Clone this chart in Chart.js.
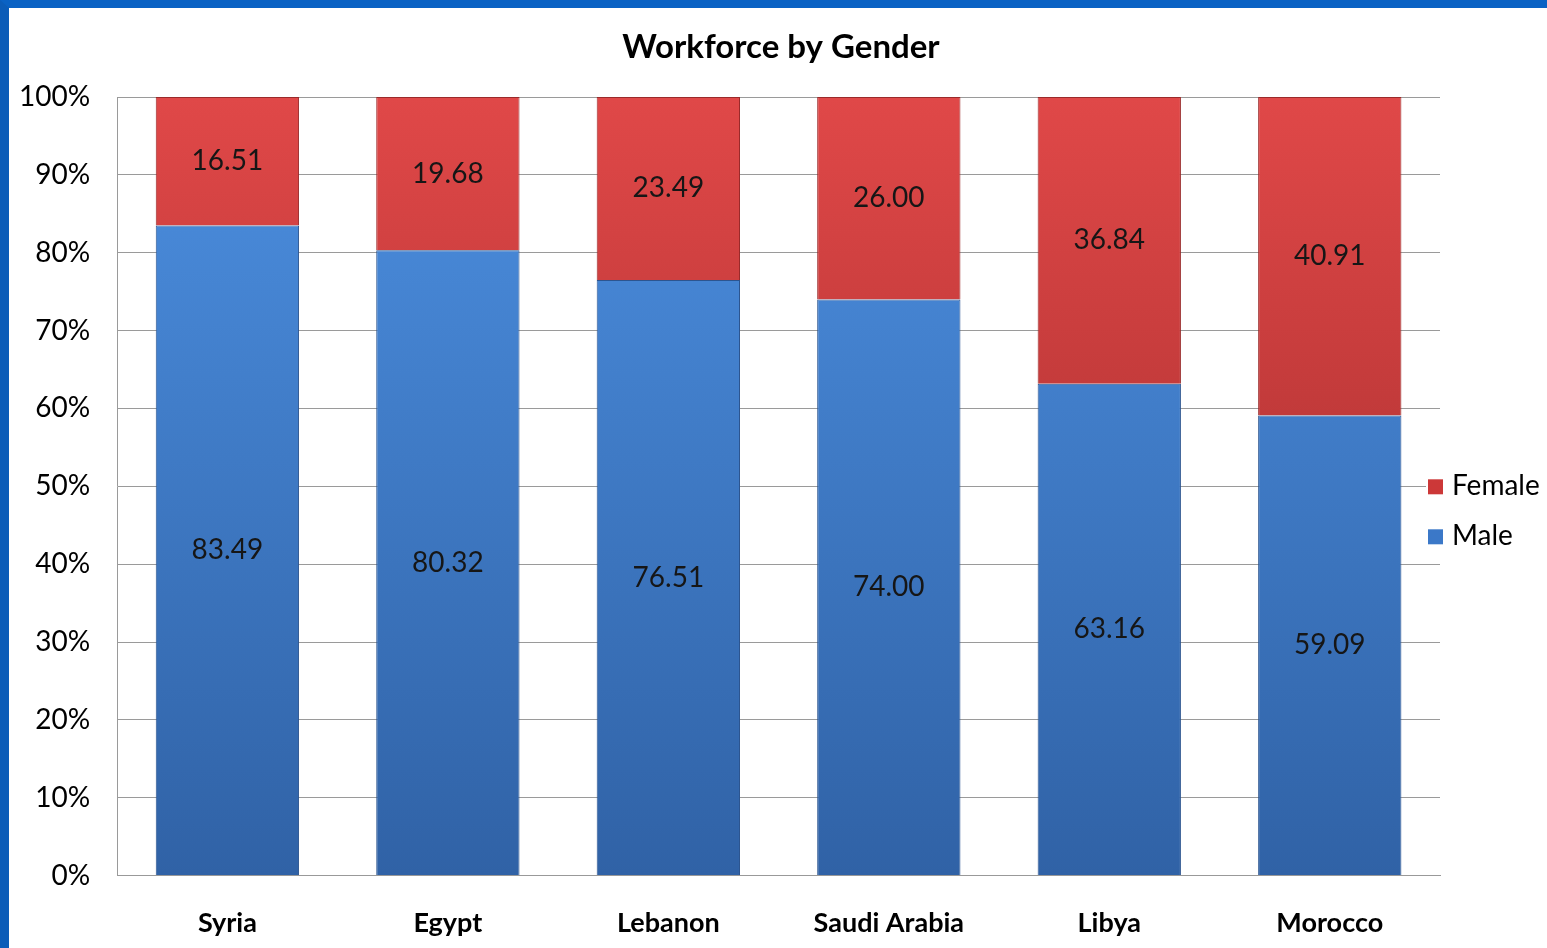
<!DOCTYPE html>
<html>
<head>
<meta charset="utf-8">
<script src="https://cdn.jsdelivr.net/npm/chart.js@4.4.0/dist/chart.umd.min.js"></script>
<style>
  html, body { margin: 0; padding: 0; background: #fff; }
  #frame {
    width: 1538px; height: 940px;
    border-top: 8px solid #0a62c4;
    border-left: 9px solid #0b5cb8;
    background: #fff;
  }
</style>
</head>
<body>
<div id="frame"><canvas id="genderChart" width="1538" height="940"></canvas></div>
<script>
var countries = ['Syria', 'Egypt', 'Lebanon', 'Saudi Arabia', 'Libya', 'Morocco'];
var male = [83.49, 80.32, 76.51, 74.00, 63.16, 59.09];
var female = [16.51, 19.68, 23.49, 26.00, 36.84, 40.91];
var yTicks = [0, 10, 20, 30, 40, 50, 60, 70, 80, 90, 100];
var legendItems = ['Female', 'Male'];
var legendColors = ['#cc3838', '#3b78c8'];
var titleText = 'Workforce by Gender';

var fontName = 'Lato, "Open Sans", sans-serif';

// vertical gradients built from the chart area
function makeGradient(chart, top, bottom) {
  var area = chart.chartArea;
  if (!area) return bottom;
  var g = chart.ctx.createLinearGradient(0, area.top, 0, area.bottom);
  g.addColorStop(0, top);
  g.addColorStop(1, bottom);
  return g;
}

// draw the value in the middle of each segment
var valueLabels = {
  id: 'valueLabels',
  afterDatasetsDraw: function(chart) {
    var ctx = chart.ctx;
    ctx.save();
    ctx.font = '28px ' + fontName;
    ctx.fillStyle = '#161616';
    ctx.textAlign = 'center';
    ctx.textBaseline = 'middle';
    chart.data.datasets.forEach(function(ds, i) {
      chart.getDatasetMeta(i).data.forEach(function(bar, j) {
        var mid = (bar.y + bar.base) / 2;
        ctx.fillText(ds.data[j].toFixed(2), bar.x, mid);
      });
    });
    ctx.restore();
  }
};

// title centred on the whole canvas, legend on the right edge partly over the plot
var decorations = {
  id: 'decorations',
  afterDraw: function(chart) {
    var ctx = chart.ctx;
    var area = chart.chartArea;
    ctx.save();
    ctx.font = 'bold 33px ' + fontName;
    ctx.fillStyle = '#000';
    ctx.textAlign = 'center';
    ctx.textBaseline = 'middle';
    ctx.fillText(titleText, chart.width / 2 + 3, 39);

    ctx.textAlign = 'left';
    ctx.font = '28px ' + fontName;
    var x = area.right - 12;
    var yMid = (area.top + area.bottom) / 2;
    legendItems.forEach(function(name, i) {
      var y = yMid + i * 50;
      ctx.fillStyle = '#fff';
      ctx.fillRect(x - 2, y - 9, 120, 18);
      ctx.fillStyle = legendColors[i];
      ctx.fillRect(x, y - 7, 15, 15);
      ctx.fillStyle = '#000';
      ctx.fillText(name, x + 24, y);
    });
    ctx.restore();
  }
};

var ctx = document.getElementById('genderChart').getContext('2d');
var chart = new Chart(ctx, {
  type: 'bar',
  data: {
    labels: countries,
    datasets: [{
      label: 'Male',
      data: male,
      backgroundColor: function(c) { return makeGradient(c.chart, '#4c8fe0', '#3062a6'); },
      borderColor: '#2c5590',
      borderWidth: 1
    }, {
      label: 'Female',
      data: female,
      backgroundColor: function(c) { return makeGradient(c.chart, '#e04848', '#962626'); },
      borderColor: '#9a2a2a',
      borderWidth: 1
    }]
  },
  options: {
    responsive: false,
    animation: false,
    layout: { padding: { left: -17, right: 107, top: 89, bottom: -22 } },
    datasets: { bar: { barPercentage: 0.65, categoryPercentage: 1 } },
    plugins: {
      title: { display: false },
      legend: { display: false },
      tooltip: { enabled: false }
    },
    scales: {
      x: {
        stacked: true,
        grid: { display: false, drawTicks: false },
        border: { color: '#999' },
        ticks: {
          color: '#000',
          padding: 31,
          font: { family: fontName, size: 27, weight: 'bold' }
        }
      },
      y: {
        stacked: true,
        min: 0,
        max: 100,
        afterBuildTicks: function(axis) {
          axis.ticks = yTicks.map(function(v) { return { value: v }; });
        },
        grid: { color: '#9a9a9a', drawTicks: false },
        border: { color: '#9a9a9a' },
        ticks: {
          color: '#000',
          padding: 27,
          font: { family: fontName, size: 28 },
          callback: function(v) { return v + '%'; }
        }
      }
    }
  },
  plugins: [valueLabels, decorations]
});
</script>
</body>
</html>
